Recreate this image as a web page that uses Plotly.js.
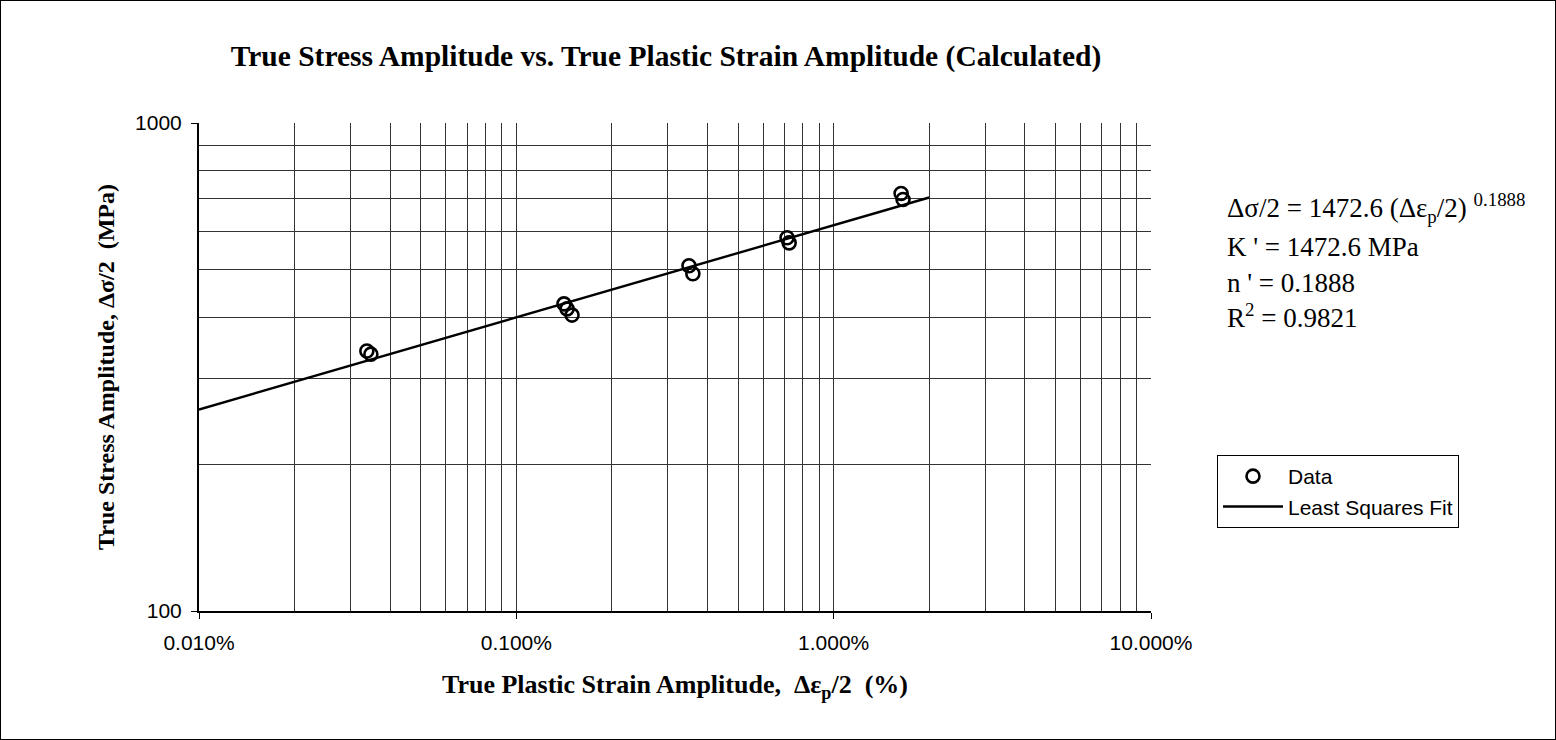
<!DOCTYPE html>
<html><head><meta charset="utf-8">
<script src="https://cdn.plot.ly/plotly-3.0.1.min.js"></script>
<style>
html,body{margin:0;padding:0;background:#fff;}
#wrap{position:relative;width:1556px;height:740px;}
#chart{width:1556px;height:740px;}
#frame{position:absolute;left:0;top:0;width:1556px;height:740px;box-sizing:border-box;border:1px solid #000;pointer-events:none;}
</style></head>
<body>
<div id="wrap"><div id="chart"></div><div id="frame"></div></div>
<script>
// Data (strain amplitude as fraction, displayed as percent)
const strainData = [0.000338, 0.000348, 0.001413, 0.001445, 0.001498, 0.00350, 0.00360, 0.00713, 0.00724, 0.01631, 0.01654];
const stressData = [341, 336, 426, 416, 404, 510, 491, 582, 568, 717, 697];
// Fit parameters
const K = 1472.6;
const nExp = 0.1888;
const fitStrain = [0.0001, 0.02];
const fitStress = fitStrain.map(e => K * Math.pow(e, nExp));
// Ticks
const xTickVals = [0.0001, 0.001, 0.01, 0.1];
const xTickText = ['0.010%', '0.100%', '1.000%', '10.000%'];
const xMinorVals = [];
[0.0001, 0.001, 0.01].forEach(d => { for (let k = 2; k <= 9; k++) xMinorVals.push(d * k); });
const yTickVals = [100, 1000];
const yTickText = ['100', '1000'];
const yMinorVals = [200, 300, 400, 500, 600, 700, 800, 900];

const traces = [
  {x: strainData, y: stressData, mode: 'markers', name: 'Data', type: 'scatter',
   marker: {symbol: 'circle-open', size: 13, color: '#000', line: {width: 2.6, color: '#000'}}},
  {x: fitStrain, y: fitStress, mode: 'lines', name: 'Least Squares Fit', type: 'scatter',
   line: {color: '#000', width: 2.4}}
];

const serif = 'Liberation Serif, Times New Roman, serif';
const sans = 'Liberation Sans, Arial, sans-serif';
const gridCol = '#333';
const annX = (1225-199)/952;
const py = y => (611 - y)/488;
const layout = {
  width: 1556, height: 740,
  margin: {l: 199, r: 405, t: 123, b: 129},
  paper_bgcolor: '#fff', plot_bgcolor: '#fff',
  showlegend: true,
  title: {text: 'True Stress Amplitude vs. True Plastic Strain Amplitude (Calculated)',
    font: {family: serif, size: 29.5, color: '#000', weight: 'bold'},
    x: 666/1556, xanchor: 'center', y: 1 - 56/740, yanchor: 'middle'},
  xaxis: {type: 'log', range: [-4, -1], tickmode: 'array', tickvals: xTickVals, ticktext: xTickText,
    showgrid: true, gridcolor: gridCol, gridwidth: 1,
    minor: {tickmode: 'array', tickvals: xMinorVals, showgrid: true, gridcolor: gridCol, gridwidth: 1, ticks: ''},
    showline: true, linecolor: '#000', linewidth: 2, mirror: false,
    ticks: 'outside', ticklen: 6, tickcolor: '#000', ticklabelstandoff: 6,
    tickfont: {family: sans, size: 21, color: '#000'},
    zeroline: false,
    title: {text: 'True Plastic Strain Amplitude,\u00a0\u00a0Δε<sub>p</sub>/2\u00a0\u00a0(%)', standoff: 22,
      font: {family: serif, size: 26, color: '#000', weight: 'bold'}}},
  yaxis: {type: 'log', range: [2, 3], tickmode: 'array', tickvals: yTickVals, ticktext: yTickText,
    showgrid: true, gridcolor: gridCol, gridwidth: 1,
    minor: {tickmode: 'array', tickvals: yMinorVals, showgrid: true, gridcolor: gridCol, gridwidth: 1, ticks: ''},
    showline: true, linecolor: '#000', linewidth: 2,
    ticks: 'outside', ticklen: 6, tickcolor: '#000', ticklabelstandoff: 5,
    tickfont: {family: sans, size: 21, color: '#000'},
    zeroline: false,
    title: {text: 'True Stress Amplitude, Δσ/2\u00a0\u00a0(MPa)', standoff: 14,
      font: {family: serif, size: 24, color: '#000', weight: 'bold'}}},
  legend: {x: (1217-199)/952, y: py(455), xanchor: 'left', yanchor: 'top',
    bgcolor: '#fff', bordercolor: '#000', borderwidth: 1, itemwidth: 60,
    font: {family: sans, size: 21, color: '#000'},
    tracegroupgap: 4},
  annotations: [
    {xref: 'paper', yref: 'paper', x: annX, y: py(208), xanchor: 'left', yanchor: 'middle', showarrow: false, align: 'left',
     text: 'Δσ/2 = 1472.6 (Δε<sub>p</sub>/2) <sup>0.1888</sup>',
     font: {family: serif, size: 27, color: '#000'}},
    {xref: 'paper', yref: 'paper', x: annX, y: py(247), xanchor: 'left', yanchor: 'middle', showarrow: false,
     text: "K ' = 1472.6 MPa", font: {family: serif, size: 27, color: '#000'}},
    {xref: 'paper', yref: 'paper', x: annX, y: py(283), xanchor: 'left', yanchor: 'middle', showarrow: false,
     text: "n ' = 0.1888", font: {family: serif, size: 27, color: '#000'}},
    {xref: 'paper', yref: 'paper', x: annX, y: py(316), xanchor: 'left', yanchor: 'middle', showarrow: false,
     text: 'R<sup>2</sup> = 0.9821', font: {family: serif, size: 27, color: '#000'}}
  ]
};
Plotly.newPlot('chart', traces, layout, {displayModeBar: false, staticPlot: true});
</script>
</body></html>
